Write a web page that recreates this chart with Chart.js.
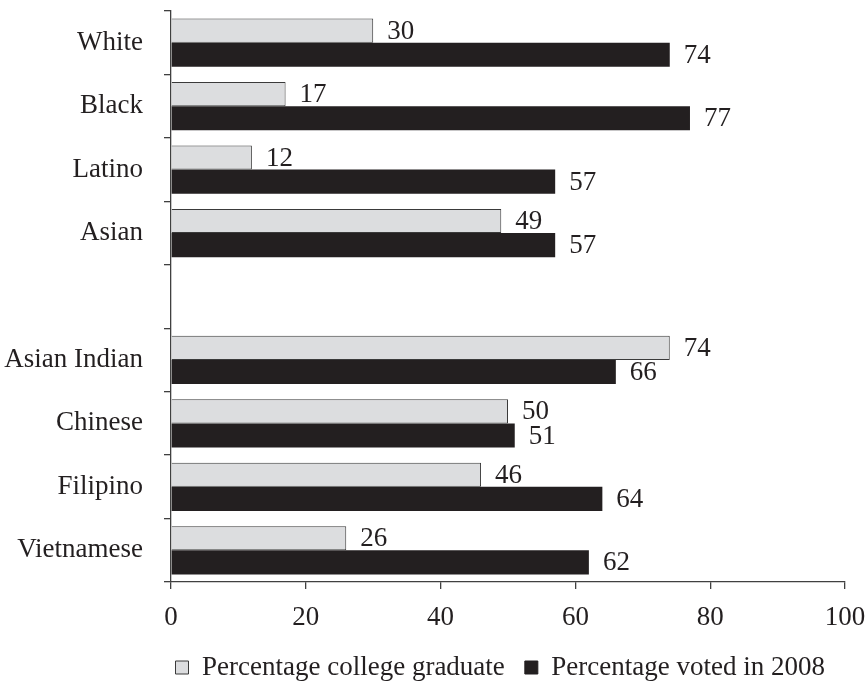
<!DOCTYPE html>
<html>
<head>
<meta charset="utf-8">
<script src="https://cdn.jsdelivr.net/npm/chart.js@4"></script>
<style>
  html, body { margin: 0; padding: 0; background: #fff; }
  #wrap { width: 866px; height: 681px; position: relative; }
</style>
</head>
<body>
<div id="wrap"><canvas id="chart"></canvas></div>
<script>
// categories (the empty one is the gap between the two groups)
const categories = ['White', 'Black', 'Latino', 'Asian', '', 'Asian Indian', 'Chinese', 'Filipino', 'Vietnamese'];
const collegeGrad = [30, 17, 12, 49, null, 74, 50, 46, 26];
const voted2008 = [74, 77, 57, 57, null, 66, 51, 64, 62];
const xTicks = [0, 20, 40, 60, 80, 100];

const INK = '#231f20';
const FONT = { family: '"Liberation Serif", "Times New Roman", serif', size: 27 };

// value labels at the end of each bar
const valueLabels = {
    id: 'valueLabels',
    afterDatasetsDraw(chart) {
        const ctx = chart.ctx;
        ctx.save();
        ctx.font = FONT.size + 'px ' + FONT.family;
        ctx.fillStyle = INK;
        ctx.textAlign = 'left';
        ctx.textBaseline = 'middle';
        chart.data.datasets.forEach((ds, i) => {
            chart.getDatasetMeta(i).data.forEach((bar, j) => {
                const v = ds.data[j];
                if (v == null) return;
                ctx.fillText(String(v), bar.x + 14, bar.y + 1);
            });
        });
        ctx.restore();
    }
};

new Chart(document.getElementById('chart'), {
    type: 'bar',
    data: {
        labels: categories,
        datasets: [{
            label: 'Percentage college graduate',
            data: collegeGrad,
            backgroundColor: '#dcdddf',
            borderColor: '#3a3a3a',
            borderWidth: 1,
            categoryPercentage: 0.76,
            barPercentage: 1.0
        }, {
            label: 'Percentage voted in 2008',
            data: voted2008,
            backgroundColor: INK,
            borderWidth: 0,
            categoryPercentage: 0.76,
            barPercentage: 1.0
        }]
    },
    options: {
        indexAxis: 'y',
        responsive: true,
        maintainAspectRatio: false,
        animation: false,
        layout: { padding: { top: 11, right: 21, left: 0, bottom: -10 } },
        scales: {
            x: {
                min: 0,
                max: 100,
                afterBuildTicks(scale) { scale.ticks = xTicks.map(v => ({ value: v })); },
                grid: { drawOnChartArea: false, drawTicks: true, tickLength: 7, color: '#404040', lineWidth: 1.3 },
                border: { display: true, color: '#404040', width: 1.3 },
                ticks: { color: INK, font: FONT, padding: 13, maxRotation: 0 },
                afterFit(scale) {
                    scale.height = 52;
                    scale.paddingLeft = 0;
                    scale.paddingRight = 0;
                }
            },
            y: {
                grid: { drawOnChartArea: false, drawTicks: true, tickLength: 7, offset: true, color: '#404040', lineWidth: 1.3 },
                border: { display: true, color: '#404040', width: 1.3 },
                ticks: { color: INK, font: FONT, padding: 21 },
                afterFit(scale) {
                    scale.width = 171;
                    scale.paddingTop = 0;
                    scale.paddingBottom = 0;
                }
            }
        },
        plugins: {
            legend: {
                position: 'bottom',
                align: 'end',
                labels: {
                    color: INK,
                    font: FONT,
                    boxWidth: 13,
                    boxHeight: 13,
                    padding: 20,
                    generateLabels(chart) {
                        return chart.data.datasets.map((ds, i) => ({
                            text: ds.label,
                            fillStyle: ds.backgroundColor,
                            strokeStyle: i === 0 ? '#3a3a3a' : INK,
                            lineWidth: 1,
                            fontColor: INK,
                            datasetIndex: i
                        }));
                    }
                }
            },
            tooltip: { enabled: false }
        }
    },
    plugins: [valueLabels]
});
</script>
</body>
</html>
